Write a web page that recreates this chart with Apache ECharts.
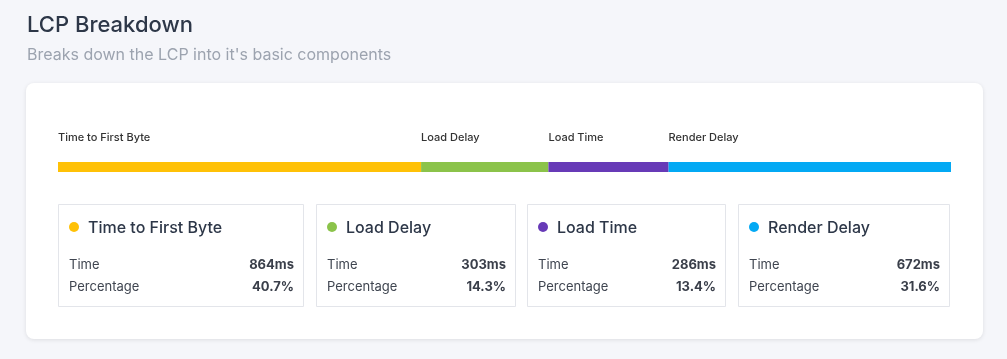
<!DOCTYPE html>
<html>
<head>
<meta charset="utf-8">
<script src="https://cdn.jsdelivr.net/npm/echarts@6/dist/echarts.min.js"></script>
<style>
html,body{margin:0;padding:0;background:#f5f6fa;}
#c{width:1007px;height:359px;}
</style>
</head>
<body>
<div id="c"></div>
<script>
// ---- data ----
var categories = ['Time to First Byte', 'Load Delay', 'Load Time', 'Render Delay'];
var timesMs = [864, 303, 286, 672];
var percentLabels = ['40.7%', '14.3%', '13.4%', '31.6%'];
var colors = ['#ffc107', '#8bc34a', '#673ab7', '#03a9f4'];

// ---- layout ----
var FONT = 'Inter, "Noto Sans", sans-serif';
var boxLeft = [58, 316, 527, 738];
var boxRight = [304, 516, 726, 950];
var boxTop = 204, boxBottom = 307;

var total = timesMs.reduce(function (a, b) { return a + b; }, 0);

var series = categories.map(function (name, i) {
  return {
    type: 'bar',
    name: name,
    stack: 'lcp',
    barWidth: 10,
    silent: true,
    itemStyle: { color: colors[i] },
    label: {
      show: true,
      position: [0, -24],
      align: 'left',
      verticalAlign: 'middle',
      formatter: name,
      fontFamily: FONT,
      fontSize: 11,
      fontWeight: 500,
      color: '#333'
    },
    data: [timesMs[i]]
  };
});

var graphics = [
  { type: 'text', left: 27, top: 14, z: 10,
    style: { text: 'LCP Breakdown', font: '500 22px ' + FONT, fill: '#2d3748' } },
  { type: 'text', left: 27, top: 47, z: 10,
    style: { text: "Breaks down the LCP into it's basic components", font: '400 16px ' + FONT, fill: '#9ca3af' } },
  { type: 'rect', shape: { x: 26, y: 83, width: 957, height: 256, r: 8 }, z: -10,
    style: { fill: '#ffffff', shadowBlur: 4, shadowOffsetY: 1, shadowColor: 'rgba(0,0,0,0.10)' } }
];

categories.forEach(function (name, i) {
  var l = boxLeft[i], r = boxRight[i];
  graphics.push(
    { type: 'rect', shape: { x: l + 0.5, y: boxTop + 0.5, width: r - l - 1, height: boxBottom - boxTop - 1 }, z: 1,
      style: { fill: '#fff', stroke: '#e3e5ea', lineWidth: 1 } },
    { type: 'circle', shape: { cx: l + 16, cy: 227, r: 5 }, z: 2, style: { fill: colors[i] } },
    { type: 'text', x: l + 30, y: 228, z: 2,
      style: { text: name, font: '500 16px ' + FONT, fill: '#2d3748', verticalAlign: 'middle' } },
    { type: 'text', x: l + 11, y: 265, z: 2,
      style: { text: 'Time', font: '400 13px ' + FONT, fill: '#3f4550', verticalAlign: 'middle' } },
    { type: 'text', x: r - 10, y: 265, z: 2,
      style: { text: timesMs[i] + 'ms', font: '700 13px ' + FONT, fill: '#3a3f4a', align: 'right', verticalAlign: 'middle' } },
    { type: 'text', x: l + 11, y: 287, z: 2,
      style: { text: 'Percentage', font: '400 13px ' + FONT, fill: '#3f4550', verticalAlign: 'middle' } },
    { type: 'text', x: r - 10, y: 287, z: 2,
      style: { text: percentLabels[i], font: '700 13px ' + FONT, fill: '#3a3f4a', align: 'right', verticalAlign: 'middle' } }
  );
});

var chart = echarts.init(document.getElementById('c'), null, { renderer: 'canvas' });
chart.setOption({
  backgroundColor: '#f5f6fa',
  animation: false,
  textStyle: { fontFamily: FONT },
  grid: { left: 58, right: 56, top: 162, height: 10 },
  xAxis: { type: 'value', min: 0, max: total, show: false },
  yAxis: { type: 'category', data: ['LCP'], show: false },
  series: series,
  graphic: graphics
});
</script>
</body>
</html>
